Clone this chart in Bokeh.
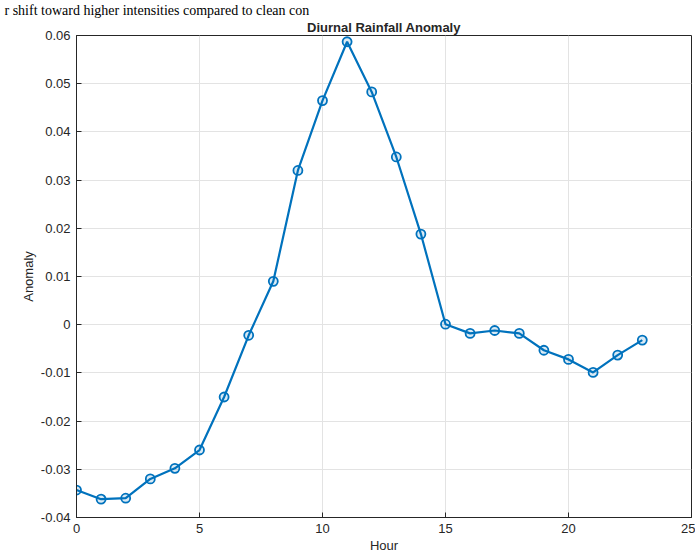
from bokeh.plotting import figure
from bokeh.models import Range1d, FixedTicker, Title
from bokeh.embed import file_html
from bokeh.resources import INLINE

hours = list(range(24))
anomaly = [-0.0343, -0.0362, -0.0360, -0.0320, -0.0298, -0.0260, -0.0150, -0.0022,
           0.0090, 0.0320, 0.0465, 0.0587, 0.0483, 0.0348, 0.0188, 0.0001,
           -0.0018, -0.0012, -0.0018, -0.0053, -0.0072, -0.0099, -0.0063, -0.0032]
xticks = [0, 5, 10, 15, 20, 25]
yticks = [-0.04, -0.03, -0.02, -0.01, 0.0, 0.01, 0.02, 0.03, 0.04, 0.05, 0.06]
ylabels = ["-0.04", "-0.03", "-0.02", "-0.01", "0", "0.01", "0.02", "0.03", "0.04", "0.05", "0.06"]

FONT = "Liberation Sans"
p = figure(width=695, height=557, output_backend="svg", toolbar_location=None,
           x_range=Range1d(0, 25), y_range=Range1d(-0.04, 0.06),
           min_border_left=76, min_border_right=4, min_border_top=32, min_border_bottom=40)

# cropped document line above the chart
p.title.text = "r shift toward higher intensities compared to clean con"
p.title.align = "left"
p.title.text_font = "Liberation Serif"
p.title.text_font_size = "14px"
p.title.text_font_style = "normal"
p.title.text_color = "black"
p.title.text_line_height = 1.0
p.title.offset = -72
p.title.standoff = 0

t = Title(text="Diurnal Rainfall Anomaly", align="center", text_font=FONT,
          text_font_size="13px", text_font_style="bold", text_color="#262626",
          text_line_height=1.0, offset=0, standoff=1)
p.add_layout(t, "above")

p.line(hours, anomaly, line_color="#0072BD", line_width=2.2)
p.scatter(hours, anomaly, marker="circle", size=9, line_color="#0072BD", line_width=1.8,
          fill_color="#0072BD", fill_alpha=0.15)

for ax in (p.xaxis[0], p.yaxis[0]):
    ax.major_tick_in = 5
    ax.major_tick_out = 0
    ax.minor_tick_in = 0
    ax.minor_tick_out = 0
    ax.axis_line_color = "#262626"
    ax.major_tick_line_color = "#262626"
    ax.major_label_text_font = FONT
    ax.major_label_text_font_size = "13px"
    ax.major_label_text_color = "#262626"
    ax.axis_label_text_font = FONT
    ax.axis_label_text_font_size = "13px"
    ax.axis_label_text_font_style = "normal"
    ax.axis_label_text_color = "#262626"

p.xaxis.ticker = FixedTicker(ticks=xticks)
p.yaxis.ticker = FixedTicker(ticks=yticks)
p.yaxis.major_label_overrides = {t: l for t, l in zip(yticks, ylabels)}
p.xaxis.axis_label = "Hour"
p.yaxis.axis_label = "Anomaly"
p.xaxis.axis_label_standoff = 2
p.yaxis.axis_label_standoff = 2
p.xaxis.major_label_standoff = 6
p.yaxis.major_label_standoff = 6

p.xgrid.grid_line_color = "#e3e3e3"
p.ygrid.grid_line_color = "#e3e3e3"
p.outline_line_color = "#262626"
p.outline_line_width = 1

open("out.html", "w").write(file_html(p, INLINE))
